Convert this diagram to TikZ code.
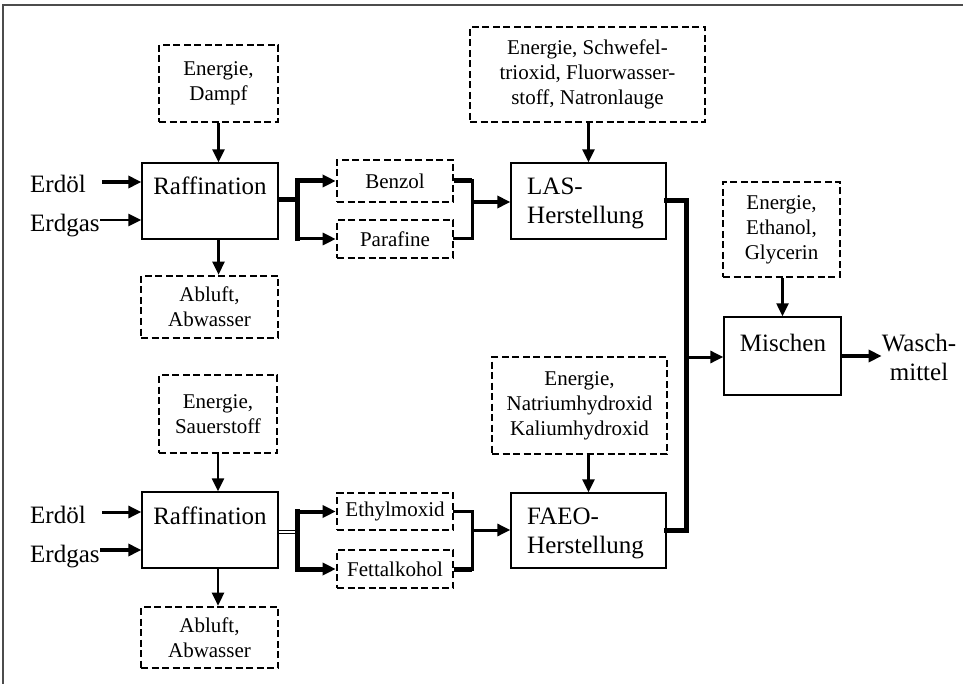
\documentclass[tikz,border=0pt]{standalone}
\usepackage{fontspec}
\setmainfont{Liberation Serif}
\usetikzlibrary{arrows.meta}
\newcommand\procfont{\fontsize{25}{29}\selectfont}
\newcommand\resfont{\fontsize{21}{25}\selectfont}
\begin{document}
\begin{tikzpicture}[x=1pt,y=-1pt,
  proc/.style={draw, line width=1.3pt, inner sep=0pt},
  res/.style={draw, line width=2.6pt, dash pattern=on 7pt off 3.5pt,
    inner sep=0pt, align=center, font=\resfont},
  lbl/.style={inner sep=0pt, font=\procfont},
  flow/.style={-{Triangle[length=13pt,width=12pt]}},
  pipe/.style={line join=miter, line cap=rect}
]
\useasboundingbox (0,0) rectangle (963,684);
% page frame
\draw[line width=1.5pt, black!70] (3,684) -- (3,5) -- (963,5);

% process steps
\node[proc, minimum width=136pt, minimum height=76pt] (raff1) at (210,201) {};
\node[proc, minimum width=155pt, minimum height=76pt] (las) at (588.5,201) {};
\node[proc, minimum width=117pt, minimum height=78pt] (mischen) at (782.5,356) {};
\node[proc, minimum width=136pt, minimum height=76pt] (raff2) at (210,530) {};
\node[proc, minimum width=155pt, minimum height=75pt] (faeo) at (588.5,530.5) {};

\node[lbl, anchor=base] (raff1t) at (210,195) {Raffination};
\node[lbl, anchor=west, align=left] (last) at (527,203) {LAS-\\Herstellung};
\node[lbl, anchor=base] (mischent) at (783,352) {Mischen};
\node[lbl, anchor=base] (raff2t) at (210,524) {Raffination};
\node[lbl, anchor=west, align=left] (faeot) at (527,533) {FAEO-\\Herstellung};

% inputs and outputs
\node[res, minimum width=119pt, minimum height=77pt] (dampf) at (218.5,83.5) {Energie,\\Dampf};
\node[res, minimum width=137pt, minimum height=62pt] (abluft1) at (209.5,307) {Abluft,\\Abwasser};
\node[res, minimum width=116pt, minimum height=42pt] (benzol) at (395,181) {Benzol};
\node[res, minimum width=116pt, minimum height=38pt] (parafine) at (395,239) {Parafine};
\node[res, minimum width=235pt, minimum height=95pt] (schwefel) at (587.5,74.5)
  {Energie, Schwefel-\\trioxid, Fluorwasser-\\stoff, Natronlauge};
\node[res, minimum width=117pt, minimum height=95pt] (ethanol) at (781.5,229.5) {Energie,\\Ethanol,\\Glycerin};
\node[res, minimum width=175pt, minimum height=97pt] (natrium) at (579.5,405.5)
  {Energie,\\Natriumhydroxid\\Kaliumhydroxid};
\node[res, minimum width=118pt, minimum height=78pt] (sauer) at (218,414) {Energie,\\Sauerstoff};
\node[res, minimum width=116pt, minimum height=37pt] (ethyl) at (395,511.5) {Ethylmoxid};
\node[res, minimum width=116pt, minimum height=38pt] (fett) at (395,569) {Fettalkohol};
\node[res, minimum width=137pt, minimum height=61pt] (abluft2) at (209.5,637.5) {Abluft,\\Abwasser};

% raw materials and product
\node[lbl, anchor=base west] (oil1) at (30,193) {Erdöl};
\node[lbl, anchor=base west] (gas1) at (30,232) {Erdgas};
\node[lbl, anchor=base west] (oil2) at (30,523) {Erdöl};
\node[lbl, anchor=base west] (gas2) at (30,562) {Erdgas};
\node[lbl, align=center] (wasch) at (919,357) {Wasch-\\mittel};

% feed arrows
\coordinate (oil1s) at (102,182);
\coordinate (gas1s) at (100,220);
\coordinate (oil2s) at (102,512);
\coordinate (gas2s) at (100,550);
\draw[flow, line width=4.5pt] (oil1s) -- (oil1s -| raff1.west);
\draw[flow, line width=2.5pt] (gas1s) -- (gas1s -| raff1.west);
\draw[flow, line width=3pt] (oil2s) -- (oil2s -| raff2.west);
\draw[flow, line width=4.5pt] (gas2s) -- (gas2s -| raff2.west);

% auxiliary inputs and emissions
\draw[flow, line width=2.6pt] (dampf.south) -- (dampf.south |- raff1.north);
\draw[flow, line width=2.6pt] (raff1.south -| dampf.south) -- (abluft1.north -| dampf.south);
\draw[flow, line width=2.2pt] (sauer.south) -- (sauer.south |- raff2.north);
\draw[flow, line width=2.6pt] (raff2.south -| sauer.south) -- (abluft2.north -| sauer.south);
\draw[flow, line width=2.6pt] (schwefel.south -| las.north) -- (las.north);
\draw[flow, line width=2.6pt] (natrium.south -| faeo.north) -- (faeo.north);
\draw[flow, line width=2.2pt] (ethanol.south -| mischen.north) -- (mischen.north);

% upper chain: refining to LAS
\coordinate (j1) at (297,200);
\coordinate (j2) at (472,202);
\draw[line width=5pt] (raff1.east |- j1) -- (j1);
\draw[pipe, line width=5pt] (j1 |- benzol.west) -- (j1 |- parafine.west);
\draw[flow, line width=5pt] (j1 |- benzol.west) -- (benzol.west);
\draw[flow, line width=3pt] (j1 |- parafine.west) -- (parafine.west);
\draw[line width=5pt] (benzol.east) -- (benzol.east -| j2);
\draw[pipe, line width=3pt] (benzol.east -| j2) -- (parafine.east -| j2) -- (parafine.east);
\draw[flow, line width=4pt] (j2) -- (j2 -| las.west);

% lower chain: refining to FAEO
\coordinate (j4) at (297,532);
\coordinate (j5) at (472,530);
\draw[double, line width=0.8pt, double distance=2pt] (raff2.east |- j4) -- (j4);
\draw[pipe, line width=5pt] (j4 |- ethyl.west) -- (j4 |- fett.west);
\draw[flow, line width=4pt] (j4 |- ethyl.west) -- (ethyl.west);
\draw[flow, line width=5pt] (j4 |- fett.west) -- (fett.west);
\draw[pipe, line width=3pt] (ethyl.east) -- (ethyl.east -| j5) -- (fett.east -| j5);
\draw[line width=5pt] (fett.east) -- (fett.east -| j5);
\draw[flow, line width=3pt] (j5) -- (j5 -| faeo.west);

% both chains into mixing
\coordinate (j3) at (686,357);
\draw[pipe, line width=5pt] (las.east) -- (las.east -| j3) -- (faeo.east -| j3) -- (faeo.east);
\draw[flow, line width=3pt] (j3) -- (j3 -| mischen.west);
\draw[flow, line width=3.5pt] (mischen.east) -- (mischen.east -| wasch.west);
\end{tikzpicture}
\end{document}
